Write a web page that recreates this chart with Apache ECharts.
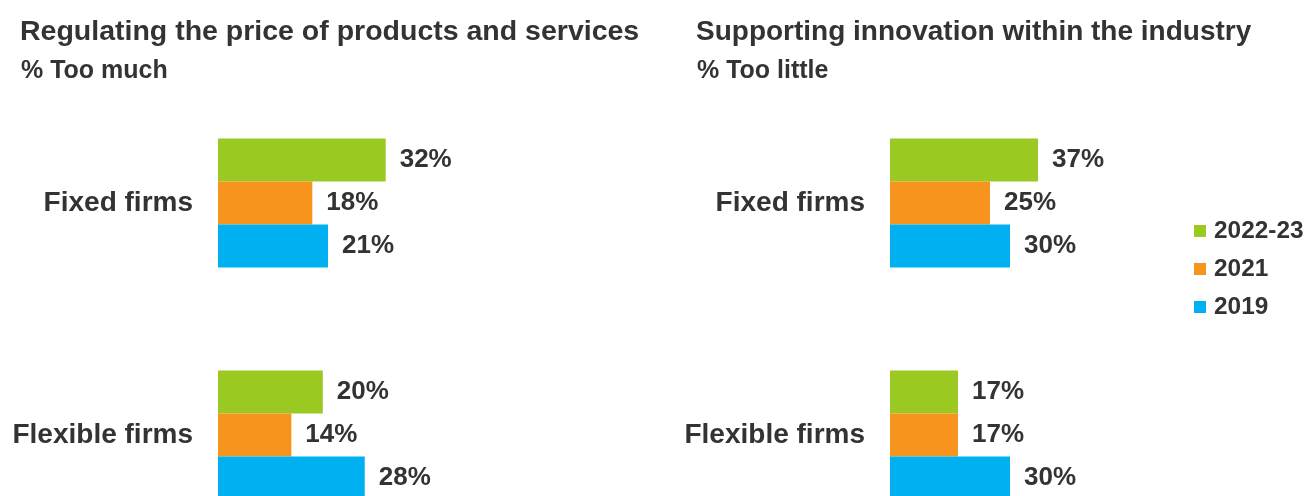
<!DOCTYPE html>
<html>
<head>
<meta charset="utf-8">
<title>Regulation views by firm type</title>
<script src="https://cdn.jsdelivr.net/npm/echarts@6/dist/echarts.min.js"></script>
<style>
  html, body { margin: 0; padding: 0; background: #fff; }
  #chart { width: 1306px; height: 496px; }
</style>
</head>
<body>
<div id="chart"></div>
<script>
// categories and years
const firmTypes = ['Fixed firms', 'Flexible firms']
const years = ['2022-23', '2021', '2019']
const yearColors = ['#9aca22', '#f7941d', '#00b0f0']

// left panel: % too much (price regulation)
const priceTooMuch = {
  '2022-23': [32, 20],
  '2021': [18, 14],
  '2019': [21, 28]
}

// right panel: % too little (innovation support)
const innovationTooLittle = {
  '2022-23': [37, 17],
  '2021': [25, 17],
  '2019': [30, 30]
}

const textColor = '#333'
const font = 'Liberation Sans, Arial, sans-serif'

const chart = echarts.init(document.getElementById('chart'))

const titleStyle = (size) => ({
  fontFamily: font,
  fontSize: size,
  fontWeight: 'bold',
  color: textColor
})

// build bar series for one grid
const makeSeries = (data, idx) => years.map((y, i) => ({
  name: y,
  type: 'bar',
  xAxisIndex: idx,
  yAxisIndex: idx,
  data: data[y],
  barWidth: 43,
  barGap: '0%',
  itemStyle: { color: yearColors[i] },
  label: {
    show: true,
    position: 'right',
    distance: 14,
    formatter: '{c}%',
    fontFamily: font,
    fontSize: 26,
    fontWeight: 'bold',
    color: textColor
  },
  silent: true
}))

const yAxisBase = (idx) => ({
  type: 'category',
  gridIndex: idx,
  data: firmTypes,
  inverse: true,
  axisLine: { show: false },
  axisTick: { show: false },
  axisLabel: {
    margin: 25,
    fontFamily: font,
    fontSize: 28,
    fontWeight: 'bold',
    color: textColor
  }
})

const xAxisBase = (idx) => ({
  type: 'value',
  gridIndex: idx,
  min: 0,
  max: 50,
  show: false
})

const option = {
  animation: false,
  title: [
    { text: 'Regulating the price of products and services', left: 20, top: 18, padding: 0, textStyle: titleStyle(28.5) },
    { text: '% Too much', left: 21, top: 59, padding: 0, textStyle: titleStyle(25) },
    { text: 'Supporting innovation within the industry', left: 696, top: 18, padding: 0, textStyle: titleStyle(28) },
    { text: '% Too little', left: 697, top: 59, padding: 0, textStyle: titleStyle(25) }
  ],
  legend: {
    data: years,
    orient: 'vertical',
    left: 1194,
    top: 219,
    icon: 'rect',
    itemWidth: 12,
    itemHeight: 12,
    itemGap: 14,
    padding: 0,
    selectedMode: false,
    textStyle: {
      fontFamily: font,
      fontSize: 24.4,
      fontWeight: 'bold',
      color: textColor,
      padding: [0, 0, 0, 3]
    }
  },
  grid: [
    { left: 218, top: 87, width: 262, height: 464, outerBoundsMode: 'none' },
    { left: 890, top: 87, width: 200, height: 464, outerBoundsMode: 'none' }
  ],
  xAxis: [xAxisBase(0), xAxisBase(1)],
  yAxis: [yAxisBase(0), yAxisBase(1)],
  series: [
    ...makeSeries(priceTooMuch, 0),
    ...makeSeries(innovationTooLittle, 1)
  ]
}

chart.setOption(option)
</script>
</body>
</html>
